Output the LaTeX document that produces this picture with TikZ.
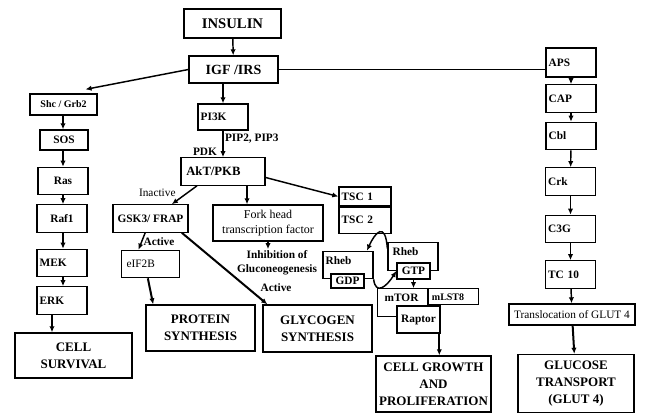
\documentclass[tikz,border=0pt]{standalone}
\usepackage{fontspec}
\setmainfont{Liberation Serif}
\usetikzlibrary{positioning,arrows.meta,calc}
\newcommand\txtpetit{\fontsize{8.5}{10.5}\selectfont}
\newcommand\txtgrand{\fontsize{9.75}{12.75}\selectfont}
\tikzset{
  >={Latex[length=1.6mm,width=1.4mm]},
  boite/.style={draw, line width=0.95pt, fill=white, font=\txtpetit\bfseries, inner sep=2pt,
    minimum width=#1, minimum height=20.5pt},
  boite/.default=37.5pt,
  gauche/.style={boite, text width=#1, align=left},
  gauche/.default=33.5pt,
  resultat/.style={draw, line width=1pt, fill=white, font=\txtgrand\bfseries, align=center,
    inner sep=2pt, minimum width=#1, minimum height=34pt},
  resultat/.default=82pt,
  fleche/.style={->, line width=1.1pt},
  grosse/.style={->, line width=1.5pt},
  etiquette/.style={font=\txtpetit, inner sep=1pt},
}

\begin{document}
\begin{tikzpicture}[x=0.75pt,y=-0.75pt]
  \useasboundingbox (0,0) rectangle (646,414);
  % top
  \node[boite=72.75pt, minimum height=21.75pt, font=\fontsize{11}{13}\selectfont\bfseries] (insulin) at (232.5,23.5) {INSULIN};
  \node[boite=66.75pt, minimum height=20.25pt, font=\fontsize{10.5}{13}\selectfont\bfseries] (igf) at (233.5,69.5) {IGF /IRS};
  % right column
  \node[gauche, minimum height=21.75pt] (aps) at (571,62.5) {APS};
  \node[gauche] (cap) at (571,98.5) {CAP};
  \node[gauche] (cbl) at (571,136) {Cbl};
  \node[gauche] (crk) at (570.5,181.5) {Crk};
  \node[gauche] (ctg) at (570.5,229) {C3G};
  \node[gauche] (tc) at (570.5,274.5) {TC 10};
  \node[boite=94.5pt, minimum height=15.75pt, font=\txtpetit] (transl) at (572,314.5) {Translocation of GLUT 4};
  \node[resultat=87pt, minimum height=43.5pt] (glut) at (576,383.5) {GLUCOSE\\ TRANSPORT\\ (GLUT 4)};
  % left column
  \node[boite=50.25pt, minimum height=15.75pt, font=\fontsize{7.5}{9}\selectfont\bfseries] (shc) at (63.5,104.5) {Shc / Grb2};
  \node[boite=36pt, minimum height=15pt] (sos) at (64,140) {SOS};
  \node[boite] (ras) at (63,181) {Ras};
  \node[boite] (raf) at (62,218.5) {Raf1};
  \node[gauche] (mek) at (62,263) {MEK};
  \node[gauche] (erk) at (62,300.5) {ERK};
  \node[resultat=87.75pt, minimum height=33.75pt] (survie) at (73.5,355.5) {CELL\\ SURVIVAL};
  % middle
  \node[gauche, minimum height=19.5pt] (pik) at (223,117) {PI3K};
  \node[gauche=55pt, inner xsep=4pt, font=\fontsize{9.5}{11}\selectfont\bfseries] (akt) at (223,171.5) {AkT/PKB};
  \node[boite=56.25pt] (gsk) at (150.5,218.5) {GSK3/ FRAP};
  \node[gauche=36pt, inner xsep=4pt, font=\txtpetit] (eif) at (150.5,264) {eIF2B};
  \node[boite=82.5pt, minimum height=27pt, font=\fontsize{9}{11}\selectfont, align=center] (fork) at (268,223) {Fork head\\ transcription factor};
  \node[etiquette, font=\txtpetit\bfseries, align=center] (inhib) at (277,263) {Inhibition of\\ Gluconeogenesis};
  \node[resultat=81.75pt, minimum height=34.5pt] (proteine) at (200.5,328) {PROTEIN\\ SYNTHESIS};
  \node[resultat=81.75pt, minimum height=35.25pt] (glycogene) at (317.5,328.5) {GLYCOGEN\\ SYNTHESIS};
  % mTOR branch
  \node[gauche=35pt, minimum height=14.25pt, inner ysep=1pt] (tsca) at (365,196.5) {TSC 1};
  \node[gauche=35pt, minimum height=19.5pt, below=0pt of tsca] (tscb) {TSC 2};
  \node[gauche, text height=7pt, text depth=8.5pt] (rhebd) at (348,265) {Rheb};
  \node[boite=24.75pt, minimum height=10.5pt, inner sep=1pt] (gdp) at (347.5,281) {GDP};
  \node[gauche=30.5pt, text height=7pt, text depth=9.25pt] (rhebt) at (413,256.5) {Rheb};
  \node[boite=24.75pt, minimum height=12pt, inner sep=1pt] (gtp) at (413.5,271) {GTP};
  \node[gauche=26.75pt, text height=6.5pt, text depth=8.25pt] (mtor) at (402.5,302.5) {mTOR};
  \node[gauche=32.75pt, minimum height=12pt, inner ysep=1pt, anchor=north west, font=\fontsize{7.5}{9}\selectfont\bfseries] (mlst) at (mtor.north east) {mLST8};
  \node[boite=32.25pt, minimum height=20.25pt] (raptor) at (418.5,319.5) {Raptor};
  \node[resultat=86.25pt, minimum height=42pt] (croissance) at (433.5,384) {CELL GROWTH\\ AND\\ PROLIFERATION};

  \draw[fleche] (insulin) -- (igf);
  \draw[fleche] (igf.west) -- ($(shc.north)+(22,-4)$);
  \draw[line width=1.1pt] (igf.east) -- (igf.east -| aps.west);
  \foreach \a/\b in {aps/cap,cap/cbl,cbl/crk,crk/ctg,ctg/tc,tc/transl}
    \draw[fleche] (\a) -- (\b);
  \draw[grosse] (transl) -- (glut);
  \foreach \a/\b in {shc/sos,sos/ras,ras/raf,raf/mek,mek/erk}
    \draw[fleche] (\a.south -| ras.south) -- (\b.north -| ras.south);
  \draw[grosse] ([xshift=-7.5pt]erk.south) -- ([xshift=-7.5pt]erk.south |- survie.north);
  \draw[fleche] (pik.north |- igf.south) -- (pik);
  \draw[fleche] (pik) -- node[etiquette, right, pos=0.3, font=\txtpetit\bfseries] {PIP2, PIP3}
    node[etiquette, left, pos=0.78, xshift=-3pt, font=\txtpetit\bfseries] {PDK} (akt);
  \draw[fleche] ([xshift=-19.5pt]akt.south) -- node[etiquette, left, pos=0.4, xshift=-7pt] {Inactive} ([xshift=16pt]gsk.north);
  \draw[fleche] ([xshift=18pt]akt.south) -- ([xshift=18pt]akt.south |- fork.north);
  \draw[fleche] ([yshift=-4.5pt]akt.east) -- (tsca.west);
  \draw[fleche] ([xshift=-4pt]gsk.south) -- node[etiquette, right, pos=0.55, font=\txtpetit\bfseries] {Active} ([xshift=-9pt]eif.north);
  \draw[grosse] ([xshift=23.5pt]gsk.south) -- node[etiquette, right, pos=0.77, xshift=8pt, font=\txtpetit\bfseries] {Active} ($(glycogene.north west)+(5,0)$);
  \draw[grosse] ([xshift=-2pt]eif.south) -- ([xshift=-35.5pt]proteine.north);
  \draw[fleche] (fork.south) -- (fork.south |- inhib.north);
  % Rheb cycle
  \draw[fleche] ([yshift=6pt]rhebt.west) .. controls +(-2,-28) and +(8,-18) .. ([xshift=-5pt]rhebd.north east);
  \draw[fleche] (rhebd.south east) .. controls +(2,16) and +(-10,16) .. (gtp.west);
  \draw[fleche] (gtp.south) -- (gtp.south |- mtor.north);
  \draw[grosse] ([xshift=-1pt]raptor.south east) -- ([xshift=-1pt]raptor.south east |- croissance.north);
\end{tikzpicture}
\end{document}
